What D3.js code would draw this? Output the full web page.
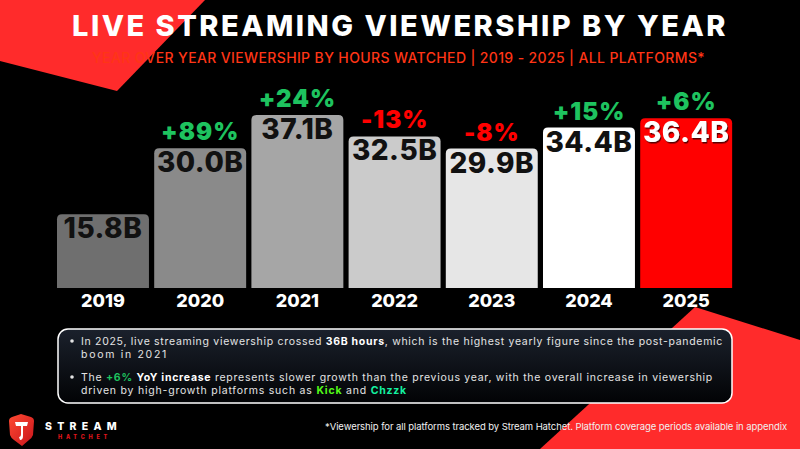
<!DOCTYPE html>
<html>
<head>
<meta charset="utf-8">
<script src="https://cdn.jsdelivr.net/npm/d3@7"></script>
<style>
  html, body { margin: 0; padding: 0; background: #000; }
  svg { display: block; }
</style>
</head>
<body>
<svg id="svg" width="800" height="449"></svg>
<script>
// chart data
const years = ["2019", "2020", "2021", "2022", "2023", "2024", "2025"];
const hours = [15.8, 30.0, 37.1, 32.5, 29.9, 34.4, 36.4]; // billions of hours watched
const yoyLabels = ["", "+89%", "+24%", "-13%", "-8%", "+15%", "+6%"];

const titleText = "LIVE STREAMING VIEWERSHIP BY YEAR";
const subtitleText = "YEAR OVER YEAR VIEWERSHIP BY HOURS WATCHED | 2019 - 2025 | ALL PLATFORMS*";
const footnoteText = "*Viewership for all platforms tracked by Stream Hatchet. Platform coverage periods available in appendix";

// bar fills, lightest grey towards the latest year, 2025 in red
const barColors = ["#6f6f6f", "#8a8a8a", "#a6a6a6", "#cbcbcb", "#e6e6e6", "#ffffff", "#ff0000"];

const FONT = "Inter, 'Open Sans', sans-serif";
const RED = "#ff2b2b";

var svg = d3.select("#svg");

//stretch a text to a target width with letter spacing instead of textLength
function fitWidth(sel, target) {
    var node = sel.node();
    var natural = node.getComputedTextLength();
    var n = node.textContent.length;
    sel.style("letter-spacing", ((target - natural) / n) + "px");
    return sel;
}

var defs = svg.append("defs");
var boxGrad = defs.append("linearGradient")
        .attr("id", "boxGrad")
        .attr("x1", 0).attr("y1", 0).attr("x2", 0).attr("y2", 1);
boxGrad.append("stop").attr("offset", "0%").attr("stop-color", "#1b212c");
boxGrad.append("stop").attr("offset", "100%").attr("stop-color", "#020305");

var shieldGrad = defs.append("linearGradient")
        .attr("id", "shieldGrad")
        .attr("x1", 0).attr("y1", 0).attr("x2", 1).attr("y2", 1);
shieldGrad.append("stop").attr("offset", "0%").attr("stop-color", "#ff4a32");
shieldGrad.append("stop").attr("offset", "100%").attr("stop-color", "#c8141c");

defs.append("filter")
        .attr("id", "shadow")
        .attr("x", "-10%").attr("y", "-10%").attr("width", "130%").attr("height", "140%")
        .append("feDropShadow")
        .attr("dx", 1).attr("dy", 1.5).attr("stdDeviation", 0.6)
        .attr("flood-color", "#4a0000").attr("flood-opacity", 0.9);

// background decoration
svg.append("rect").attr("width", 800).attr("height", 449).attr("fill", "#000");
svg.append("polygon")
        .attr("points", "0,0 205,0 117,91 0,61")
        .attr("fill", RED);
svg.append("polygon")
        .attr("points", "695,307 800,340 800,449 540,449")
        .attr("fill", RED);

// title + subtitle
var title = svg.append("text")
        .attr("x", 72).attr("y", 36)
        .style("font-family", FONT).style("font-weight", 800).style("font-size", "29px")
        .attr("fill", "#fff")
        .text(titleText);
fitWidth(title, 656);

var subtitle = svg.append("text")
        .attr("x", 92).attr("y", 63)
        .style("font-family", FONT).style("font-weight", 500).style("font-size", "14px")
        .attr("fill", "#ff3516")
        .text(subtitleText);
fitWidth(subtitle, 613);

// scales
var x = d3.scaleBand()
        .domain(years)
        .range([51.75, 737.4])
        .padding(0.054);

var y = d3.scaleLinear()
        .domain([0, 40])
        .range([288, 101.5]);

var color = d3.scaleOrdinal().domain(years).range(barColors);

var data = years.map((yr, i) => ({year: yr, value: hours[i], yoy: yoyLabels[i]}));

//bar with rounded top corners
function barPath(d) {
    var x0 = x(d.year), w = x.bandwidth(), y0 = y(d.value), y1 = y(0), r = 5;
    return "M" + x0 + "," + y1 +
            "V" + (y0 + r) +
            "Q" + x0 + "," + y0 + " " + (x0 + r) + "," + y0 +
            "H" + (x0 + w - r) +
            "Q" + (x0 + w) + "," + y0 + " " + (x0 + w) + "," + (y0 + r) +
            "V" + y1 + "Z";
}

svg.append("g")
        .selectAll("path")
        .data(data)
        .enter()
        .append("path")
        .attr("d", barPath)
        .attr("fill", d => color(d.year));

// value labels inside the bars
svg.append("g")
        .selectAll("text")
        .data(data)
        .enter()
        .append("text")
        .attr("x", d => x(d.year) + x.bandwidth() / 2)
        .attr("y", d => y(d.value) + 24)
        .attr("text-anchor", "middle")
        .style("font-family", FONT).style("font-weight", 800).style("font-size", "28px")
        .style("letter-spacing", "0.5px")
        .attr("fill", d => d.year === "2025" ? "#fff" : "#111")
        .attr("filter", d => d.year === "2025" ? "url(#shadow)" : null)
        .text(d => d3.format(".1f")(d.value) + "B");

// year over year change above the bars
svg.append("g")
        .selectAll("text")
        .data(data.filter(d => d.yoy !== ""))
        .enter()
        .append("text")
        .attr("x", d => x(d.year) + x.bandwidth() / 2)
        .attr("y", d => y(d.value) - 8)
        .attr("text-anchor", "middle")
        .style("font-family", FONT).style("font-weight", 900).style("font-size", "24px")
        .style("letter-spacing", "1px")
        .attr("fill", d => d.yoy.startsWith("-") ? "#ff0000" : "#1ec35f")
        .text(d => d.yoy);

// x axis (year labels only)
var xAxis = d3.axisBottom(x).tickSize(0).tickPadding(6);
var axisG = svg.append("g")
        .attr("transform", "translate(0," + y(0) + ")")
        .call(xAxis);
axisG.select(".domain").remove();
axisG.selectAll("text")
        .attr("dy", "0.71em")
        .style("font-family", FONT).style("font-weight", 800).style("font-size", "18px")
        .attr("fill", "#fff");

// takeaway box
svg.append("rect")
        .attr("x", 58).attr("y", 329)
        .attr("width", 674).attr("height", 74)
        .attr("rx", 10)
        .attr("fill", "url(#boxGrad)")
        .attr("stroke", "#fff").attr("stroke-width", 1.5);

var lines = [
    {y: 345, len: 642, parts: [
        {t: "In 2025, live streaming viewership crossed "},
        {t: "36B hours", b: true},
        {t: ", which is the highest yearly figure since the post-pandemic"}]},
    {y: 358, len: 87, parts: [{t: "boom in 2021"}]},
    {y: 381, len: 632, parts: [
        {t: "The "},
        {t: "+6%", b: true, c: "#1ec35f"},
        {t: " "},
        {t: "YoY increase", b: true},
        {t: " represents slower growth than the previous year, with the overall increase in viewership"}]},
    {y: 394, len: 326, parts: [
        {t: "driven by high-growth platforms such as "},
        {t: "Kick", b: true, c: "#53fc18"},
        {t: " and "},
        {t: "Chzzk", b: true, c: "#14f0a0"}]}
];

lines.forEach(function (ln) {
    var t = svg.append("text")
            .attr("x", 81).attr("y", ln.y)
            .style("font-family", FONT).style("font-size", "10.5px")
            .attr("fill", "#e4e4e4");
    ln.parts.forEach(function (p) {
        t.append("tspan")
                .style("font-weight", p.b ? 700 : 400)
                .attr("fill", p.c || (p.b ? "#fff" : "#e4e4e4"))
                .text(p.t);
    });
    fitWidth(t, ln.len);
});

// bullets
svg.selectAll("circle.bullet")
        .data([341, 377])
        .enter()
        .append("circle")
        .attr("class", "bullet")
        .attr("cx", 72).attr("cy", d => d)
        .attr("r", 1.8)
        .attr("fill", "#e4e4e4");

// footnote
var foot = svg.append("text")
        .attr("x", 325).attr("y", 430)
        .style("font-family", FONT).style("font-size", "9.5px")
        .attr("fill", "#f0f0f0")
        .text(footnoteText);
fitWidth(foot, 462);

// logo
var logo = svg.append("g");
logo.append("path")
        .attr("d", "M9,421 Q9,418 12,417 L21,414 L31,417 Q34,418 34,421 L33,435 Q32,438 29,440 L22,446 L14,440 Q11,438 10,435 Z")
        .attr("fill", "url(#shieldGrad)");
logo.append("path")
        .attr("d", "M15,422 L28,422 L27,426 L23,426 L23,436 Q23,440 20,440 L19,437 Q21,437 21,434 L21,426 L16,426 Z")
        .attr("fill", "#fff");
var streamTxt = logo.append("text")
        .attr("x", 45).attr("y", 430)
        .style("font-family", FONT).style("font-weight", 800).style("font-size", "10.5px")
        .attr("fill", "#fff")
        .text("STREAM");
fitWidth(streamTxt, 77);
var hatchetTxt = logo.append("text")
        .attr("x", 58).attr("y", 439)
        .style("font-family", FONT).style("font-weight", 800).style("font-size", "5.5px")
        .attr("fill", "#e0161c")
        .text("HATCHET");
fitWidth(hatchetTxt, 53);
</script>
</body>
</html>
